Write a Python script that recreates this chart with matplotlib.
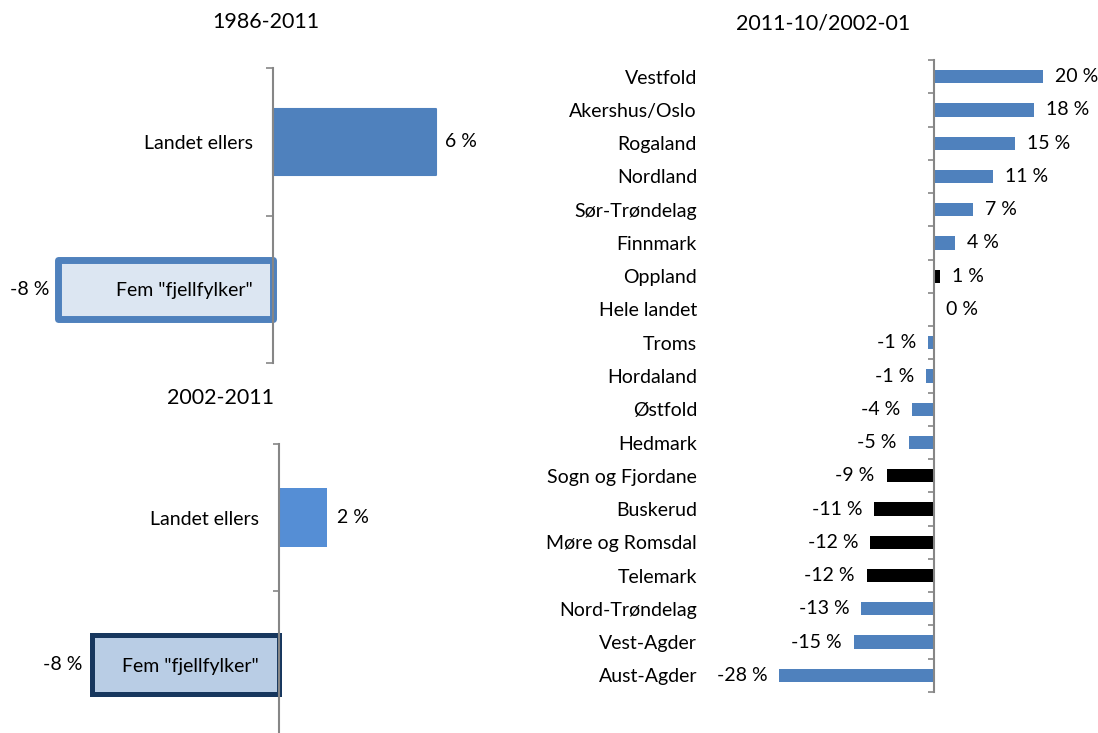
import matplotlib
matplotlib.use("Agg")
import matplotlib.pyplot as plt

# --- data ---
titles = ["1986-2011", "2002-2011", "2011-10/2002-01"]

grupper = ["Landet ellers", 'Fem "fjellfylker"']
endring_1986_2011 = [6.0, -7.85]
endring_2002_2011 = [2.0, -7.76]

fylker = ["Vestfold", "Akershus/Oslo", "Rogaland", "Nordland", "Sør-Trøndelag",
          "Finnmark", "Oppland", "Hele landet", "Troms", "Hordaland", "Østfold",
          "Hedmark", "Sogn og Fjordane", "Buskerud", "Møre og Romsdal", "Telemark",
          "Nord-Trøndelag", "Vest-Agder", "Aust-Agder"]
endring_fylker = [19.9, 18.1, 14.8, 10.8, 7.0, 3.8, 1.0, 0.0, -1.1, -1.4, -4.0,
                  -4.6, -8.6, -10.9, -11.6, -12.2, -13.2, -14.6, -28.1]
fjellfylker = ["Oppland", "Sogn og Fjordane", "Buskerud", "Møre og Romsdal", "Telemark"]

plt.rcParams['font.family'] = ['Lato', 'DejaVu Sans']
plt.rcParams['font.size'] = 14

W, H = 1098, 733
GRA = '#868686'


def boks(x0, x1, ytop, ybot):
    """pikselposisjon -> figurbrok"""
    return [x0 / W, 1 - ybot / H, (x1 - x0) / W, (ybot - ytop) / H]


def pct(v):
    return f"{v:.0f} %"


def stil_akse(ax, n, pad_px, tick_px):
    for s in ['top', 'right', 'bottom']:
        ax.spines[s].set_visible(False)
    ax.spines['left'].set_position(('data', 0))
    ax.spines['left'].set_color(GRA)
    ax.spines['left'].set_linewidth(1.5)
    ax.set_xticks([])
    ax.set_yticks([i - 0.5 for i in range(n + 1)], minor=True)
    ax.tick_params(axis='y', which='major', length=0, pad=pad_px * 0.72)
    ax.tick_params(axis='y', which='minor', length=tick_px * 0.72, width=1.2, color=GRA)
    ax.set_ylim(n - 0.5, -0.5)


def verdi_etiketter(ax, bars, verdier, off_px):
    for b, v in zip(bars, verdier):
        y = b.get_y() + b.get_height() / 2
        if v >= 0:
            ax.annotate(pct(v), (v, y), xytext=(off_px * 0.72, 0), textcoords='offset points',
                        ha='left', va='center')
        else:
            ax.annotate(pct(v), (v, y), xytext=(-off_px * 0.72, 0), textcoords='offset points',
                        ha='right', va='center')


fig = plt.figure(figsize=(W / 100, H / 100), dpi=100)

# Panel 1: 1986-2011
ax1 = fig.add_axes(boks(40.65, 491, 68, 363))
ax1.set_xlim(-8.5, 8)
pos = list(range(len(grupper)))
b1 = ax1.barh(pos, endring_1986_2011, height=[0.45, 0.40],
              color=['#4F81BD', '#DCE6F2'], edgecolor=['#4F81BD', '#4F81BD'],
              linewidth=[1.5, 5.0], joinstyle='round')
stil_akse(ax1, len(grupper), 20, 7)
ax1.set_yticks(pos, grupper)
verdi_etiketter(ax1, b1, endring_1986_2011, 9)
fig.text(266 / W, 1 - 22 / H, titles[0], ha='center', va='center', fontsize=15.5)

# Panel 2: 2002-2011
ax2 = fig.add_axes(boks(40, 500, 444, 738.6))
ax2.set_xlim(-(278.7 - 40) / 24, (500 - 278.7) / 24)
b2 = ax2.barh(pos, endring_2002_2011, height=0.40,
              color=['#558ED5', '#B9CDE5'], edgecolor=['#558ED5', '#17375E'],
              linewidth=[0, 3.6])
stil_akse(ax2, len(grupper), 20, 6)
ax2.set_yticks(pos, grupper)
verdi_etiketter(ax2, b2, endring_2002_2011, 10)
fig.text(220 / W, 1 - 398 / H, titles[1], ha='center', va='center', fontsize=15.5)

# Panel 3: fylker
ax3 = fig.add_axes(boks(705, 1095, 60, 692))
ax3.set_xlim(-(934 - 705) / 5.5, (1095 - 934) / 5.5)
pos3 = list(range(len(fylker)))
farger = ['black' if f in fjellfylker else '#4F81BD' for f in fylker]
b3 = ax3.barh(pos3, endring_fylker, height=0.40, color=farger)
stil_akse(ax3, len(fylker), 934 - 697, 6)
ax3.set_yticks(pos3, fylker)
verdi_etiketter(ax3, b3, endring_fylker, 12)
fig.text(823 / W, 1 - 23 / H, titles[2], ha='center', va='center', fontsize=15.5)

plt.savefig('out.png', dpi=100)
